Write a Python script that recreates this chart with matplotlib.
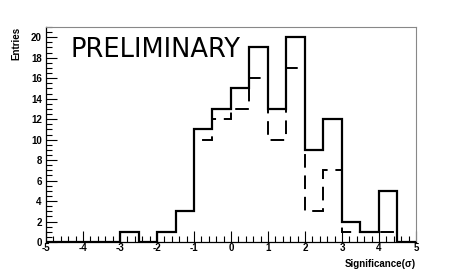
import numpy as np
import matplotlib
matplotlib.use('Agg')
import matplotlib.pyplot as plt
from matplotlib.ticker import MultipleLocator

# bin edges: 20 bins of 0.5 sigma from -5 to 5
edges = np.arange(-5.0, 5.01, 0.5)
# solid histogram
solid = [0, 0, 0, 0, 1, 0, 1, 3, 11, 13, 15, 19, 13, 20, 9, 12, 2, 1, 5, 0]
# dashed histogram
dashed = [0, 0, 0, 0, 1, 0, 1, 3, 10, 12, 13, 16, 10, 17, 3, 7, 1, 1, 1, 0]

plt.rcParams['font.family'] = ['Liberation Sans', 'DejaVu Sans']
plt.rcParams['axes.unicode_minus'] = False

fig = plt.figure(figsize=(4.63, 2.70), dpi=100)
ax = fig.add_axes([0.0994, 0.1037, 0.799, 0.7963])

ax.stairs(dashed, edges, color='black', linewidth=1.4, linestyle=(0, (7, 4)))
ax.stairs(solid, edges, color='black', linewidth=1.6)

ax.set_xlim(-5, 5)
ax.set_ylim(0, 21)
ax.xaxis.set_major_locator(MultipleLocator(1))
ax.xaxis.set_minor_locator(MultipleLocator(0.2))
ax.yaxis.set_major_locator(MultipleLocator(2))
ax.yaxis.set_minor_locator(MultipleLocator(0.5))
ax.tick_params(which='both', direction='in', top=False, right=False, width=0.8)
ax.tick_params(which='major', length=8, labelsize=7)
ax.tick_params(axis='x', which='major', pad=1)
ax.tick_params(axis='y', which='major', pad=3)
ax.tick_params(which='minor', length=4)
for lab in ax.get_xticklabels() + ax.get_yticklabels():
    lab.set_fontweight('bold')

ax.spines['left'].set_linewidth(0.9)
ax.spines['bottom'].set_linewidth(0.9)
ax.spines['top'].set_color('#888888')
ax.spines['right'].set_color('#888888')
ax.spines['top'].set_linewidth(0.8)
ax.spines['right'].set_linewidth(0.8)

ax.text(0.067, 0.895, 'PRELIMINARY', transform=ax.transAxes, fontsize=18.5,
        family='DejaVu Sans', va='center', ha='left')

fig.text(0.035, 0.90, 'Entries', rotation=90, ha='center', va='top',
         fontsize=7, fontweight='bold')
fig.text(0.898, 0.005, 'Significance(\u03c3)', ha='right', va='bottom',
         fontsize=7, fontweight='bold')

plt.savefig('out.png', dpi=100)
